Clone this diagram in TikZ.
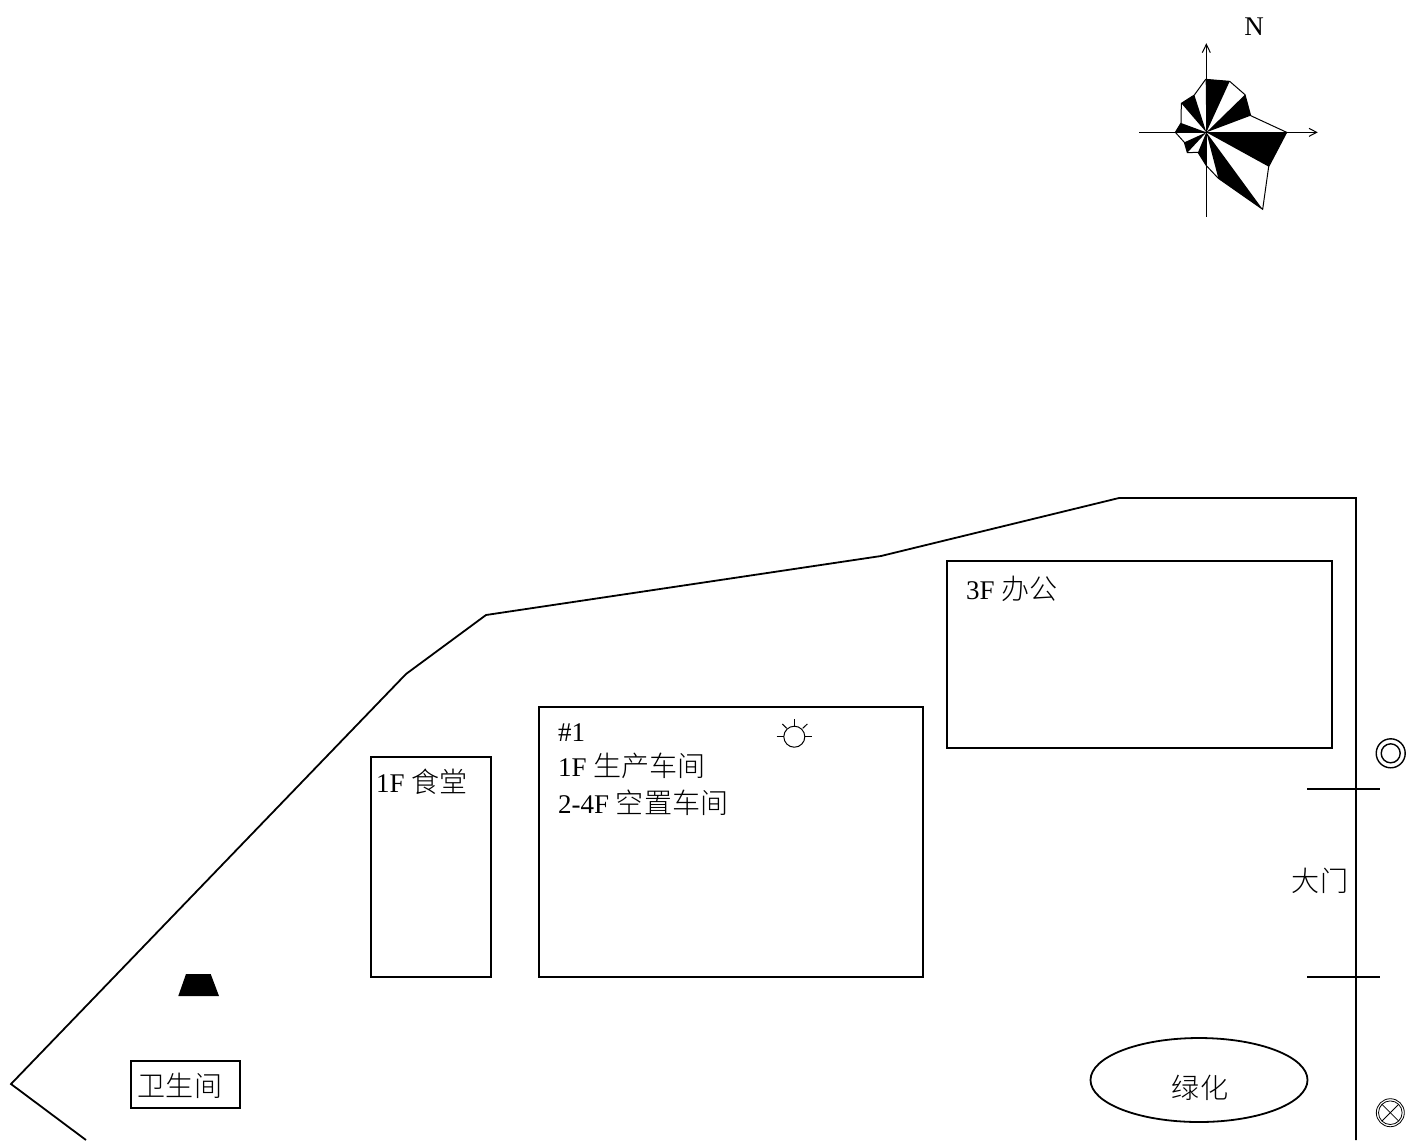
\documentclass[tikz,border=0pt]{standalone}
\usepackage{fontspec}
\usetikzlibrary{shapes.geometric}
\setmainfont{Liberation Serif}
\newfontfamily\cjk{Noto Sans CJK SC Light}[Scale=1.04]
\begin{document}
\begin{tikzpicture}[x=1bp,y=-1bp,
  wall/.style={draw=black,line width=1.8bp,line join=miter},
  thin line/.style={draw=black,line width=1bp},
  room/.style={draw=black,line width=2bp,fill=none,rectangle,inner sep=0pt,anchor=north west},
  label/.style={font=\fontsize{27bp}{30bp}\selectfont,inner sep=0pt,anchor=base west,text=black},
  clabel/.style={font=\fontsize{27bp}{30bp}\selectfont,inner sep=0pt,anchor=center,text=black}]
\useasboundingbox (0,0) rectangle (1406,1140);
\clip (0,0) rectangle (1406,1140);
\fill[white] (0,0) rectangle (1406,1140);
% site boundary
\draw[wall] (86,1140) -- (11,1084) -- (406,674) -- (486,615) -- (881,556) -- (1119,498) -- (1356,498) -- (1356,1140);
% buildings
\node[room,minimum width=119.5bp,minimum height=220.5bp] (canteen) at (370.2,755.7) {};
\node[room,minimum width=383.5bp,minimum height=270.5bp] (workshop) at (538.2,705.7) {};
\node[room,minimum width=384.5bp,minimum height=187.5bp] (office) at (946.2,559.7) {};
\node[room,minimum width=108.5bp,minimum height=47.5bp] (wc) at (130.2,1059.7) {};
\node[draw=black,line width=1.8bp,ellipse,minimum width=217bp,minimum height=84bp,inner sep=0pt] (green) at (1199,1080) {};
% gate
\coordinate (g1a) at (1307,789); \coordinate (g1b) at (1380,789);
\coordinate (g2a) at (1307,977); \coordinate (g2b) at (1380,977);
\draw[wall] (g1a) -- (g1b);
\draw[wall] (g2a) -- (g2b);
% texts
\node[label] (t1) at (966,599) {3F {\cjk 办公}};
\node[label] (t2) at (558,741) {\#1};
\node[label] (t3) at (558,776) {1F {\cjk 生产车间}};
\node[label] (t4) at (558,813) {2-4F {\cjk 空置车间}};
\node[label] (t5) at (376,792) {1F {\cjk 食堂}};
\node[clabel] (t6) at (1320,881) {\cjk 大门};
\node[clabel] (t7) at (1200,1088) {\cjk 绿化};
\node[clabel] (t8) at (180,1086) {\cjk 卫生间};
\node[clabel] (tn) at (1254,27) {N};
% black trapezoid
\fill[black] (186,974) -- (210.7,974) -- (219,996) -- (178.3,996) -- cycle;
% lamp
\draw[thin line] (794.3,736.7) circle (10.5);
\draw[thin line] (794.3,719) -- (794.3,726);
\draw[thin line] (776.7,736.7) -- (784,736.7);
\draw[thin line] (805,736.7) -- (812.3,736.7);
\draw[thin line] (782.3,724) -- (786.7,728.3);
\draw[thin line] (807.3,724) -- (802.7,728.3);
% double circle
\draw[line width=1.4bp] (1390.7,753.3) circle (14.5);
\draw[line width=1.4bp] (1390.7,753.3) circle (9.5);
% crossed double circle
\draw[line width=0.8bp] (1390.3,1112.7) circle (14);
\draw[line width=0.8bp] (1390.3,1112.7) circle (11.8);
\draw[line width=0.8bp] (1382,1104.4) -- (1398.6,1121);
\draw[line width=0.8bp] (1398.6,1104.4) -- (1382,1121);
% wind rose
\begin{scope}[shift={(1130,0)},x=0.33333bp,y=-0.33333bp]
\coordinate (c) at (229,397);
\fill[black] (c) -- (227,238) -- (299,244) -- cycle;
\fill[black] (c) -- (345,284) -- (362,347) -- cycle;
\fill[black] (c) -- (470,397) -- (416,500) -- cycle;
\fill[black] (c) -- (398,628) -- (265,535) -- cycle;
\fill[black] (c) -- (229,497) -- (204,457) -- cycle;
\fill[black] (c) -- (172,458) -- (163,427) -- cycle;
\fill[black] (c) -- (136,397) -- (153,369) -- cycle;
\fill[black] (c) -- (154,310) -- (193,285) -- cycle;
\draw[thin line] (227,238) -- (299,244) -- (345,284) -- (362,347) -- (470,397) -- (416,500) -- (398,628) -- (265,535) -- (229,497) -- (204,457) -- (172,458) -- (163,427) -- (136,397) -- (153,369) -- (154,310) -- (193,285) -- cycle;
\draw[thin line] (229,650) -- (229,133);
\draw[thin line] (217,158) -- (229,133) -- (241,158);
\draw[thin line] (28,397) -- (560,397);
\draw[thin line] (537,385) -- (560,397) -- (537,409);
\end{scope}
\end{tikzpicture}
\end{document}
